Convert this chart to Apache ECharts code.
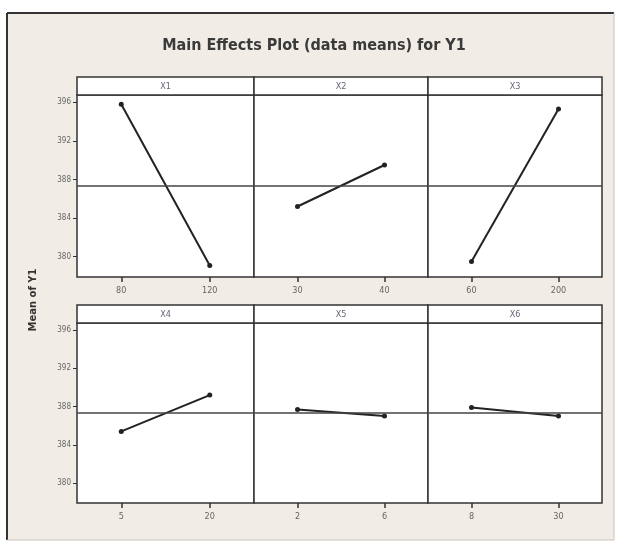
<!DOCTYPE html>
<html><head><meta charset="utf-8">
<script src="https://cdn.jsdelivr.net/npm/echarts@6/dist/echarts.min.js"></script>
<style>html,body{margin:0;padding:0;background:#fff}#c{width:628px;height:547px}</style>
</head><body><div id="c"></div>
<script>
// ---- data ----
const factors = ['X1', 'X2', 'X3', 'X4', 'X5', 'X6'];
const x1Levels = ['80', '120'];
const x2Levels = ['30', '40'];
const x3Levels = ['60', '200'];
const x4Levels = ['5', '20'];
const x5Levels = ['2', '6'];
const x6Levels = ['8', '30'];
const x1Means = [395.8, 379.1];
const x2Means = [385.2, 389.5];
const x3Means = [379.5, 395.3];
const x4Means = [385.4, 389.2];
const x5Means = [387.7, 387.0];
const x6Means = [387.9, 387.0];
const grandMean = 387.3;
const yTicks = [380, 384, 388, 392, 396];

const levels = [x1Levels, x2Levels, x3Levels, x4Levels, x5Levels, x6Levels];
const means = [x1Means, x2Means, x3Means, x4Means, x5Means, x6Means];

// ---- layout ----
const W = 628, H = 547;
const colX = [77, 254, 428, 602];
const rows = [{top: 95, bottom: 277, head: 77}, {top: 323, bottom: 503, head: 305}];
const yMin = 377.9, yMax = 396.75;
const border = '#333';

const grids = [], xAxes = [], yAxes = [], series = [], graphics = [];

graphics.push({type: 'rect', shape: {x: 7, y: 13, width: 607, height: 527}, style: {fill: '#f1ece6'}, z: -10});
graphics.push({type: 'line', shape: {x1: 7, y1: 13, x2: 614, y2: 13}, style: {stroke: '#333', lineWidth: 2}, z: -9});
graphics.push({type: 'line', shape: {x1: 7, y1: 13, x2: 7, y2: 540}, style: {stroke: '#333', lineWidth: 2}, z: -9});
graphics.push({type: 'line', shape: {x1: 614, y1: 13, x2: 614, y2: 540}, style: {stroke: '#c8c4c0', lineWidth: 1}, z: -9});
graphics.push({type: 'line', shape: {x1: 7, y1: 540, x2: 614, y2: 540}, style: {stroke: '#c8c4c0', lineWidth: 1}, z: -9});

factors.forEach((f, i) => {
  const r = Math.floor(i / 3), c = i % 3;
  const row = rows[r];
  const left = colX[c], right = colX[c + 1];
  grids.push({
    left: left, width: right - left, top: row.top, height: row.bottom - row.top,
    show: true, backgroundColor: '#fff', borderColor: border, borderWidth: 1.5
  });
  graphics.push({
    type: 'rect', shape: {x: left, y: row.head, width: right - left, height: row.top - row.head},
    style: {fill: '#fff', stroke: border, lineWidth: 1.5}, z: 5
  });
  graphics.push({
    type: 'text', x: (left + right) / 2, y: (row.head + row.top) / 2 + 0.5,
    style: {text: f, fill: '#667', font: '9px "DejaVu Sans Condensed"', align: 'center', verticalAlign: 'middle'}, z: 6
  });
  xAxes.push({
    type: 'category', gridIndex: i, data: levels[i], boundaryGap: true,
    axisLine: {show: false},
    axisTick: {show: true, alignWithLabel: true, length: 5, lineStyle: {color: '#333', width: 1.5}},
    axisLabel: {color: '#666', fontSize: 9, fontFamily: 'DejaVu Sans Condensed', margin: 9},
    splitLine: {show: false}
  });
  yAxes.push({
    type: 'value', gridIndex: i, min: yMin, max: yMax,
    axisLine: {show: false},
    axisTick: {show: c === 0, length: 4, customValues: yTicks, lineStyle: {color: '#333'}},
    axisLabel: {show: c === 0, customValues: yTicks, color: '#666', fontSize: 8, fontFamily: 'DejaVu Sans Condensed', margin: 6},
    splitLine: {show: false}
  });
  series.push({
    type: 'line', xAxisIndex: i, yAxisIndex: i, data: means[i],
    symbol: 'circle', symbolSize: 5, lineStyle: {color: '#222', width: 2}, itemStyle: {color: '#222'},
    silent: true, animation: false,
    markLine: {
      silent: true, symbol: 'none', animation: false,
      label: {show: false},
      lineStyle: {color: '#444', width: 1.5, type: 'solid'},
      data: [{yAxis: grandMean}]
    }
  });
});

graphics.push({
  type: 'text', x: 33, y: 300, rotation: Math.PI / 2,
  style: {text: 'Mean of Y1', fill: '#333', font: 'bold 10px "DejaVu Sans"', align: 'center', verticalAlign: 'middle'}
});

const chart = echarts.init(document.getElementById('c'), null, {renderer: 'canvas'});
chart.setOption({
  animation: false,
  backgroundColor: '#fff',
  title: {
    text: 'Main Effects Plot (data means) for Y1', left: 'center', top: 33,
    textStyle: {color: '#3a3a3a', fontSize: 16, fontWeight: 'bold', fontFamily: 'DejaVu Sans Condensed'}
  },
  grid: grids, xAxis: xAxes, yAxis: yAxes, series: series,
  graphic: graphics
});
</script></body></html>
